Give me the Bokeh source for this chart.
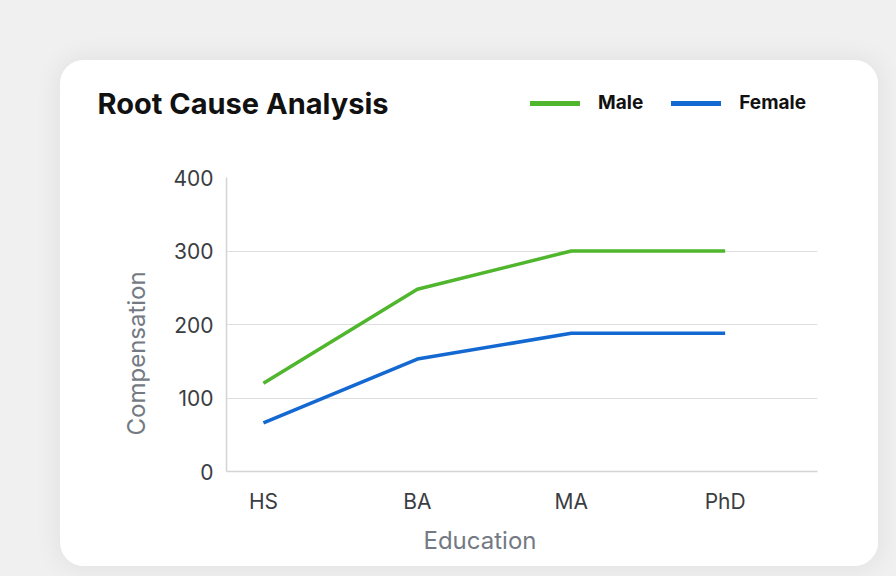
from bokeh.plotting import figure
from bokeh.models import (Range1d, FixedTicker, Legend, LegendItem, Label, Spacer, Title)
from bokeh.layouts import column, row
from bokeh.embed import file_html
from bokeh.resources import INLINE

# ---- data ----
categories = ["HS", "BA", "MA", "PhD"]
male = [120, 248, 300, 300]
female = [66, 153, 188, 188]
y_ticks = [0, 100, 200, 300, 400]
title_text = "Root Cause Analysis"
series_names = ["Male", "Female"]
x_label = "Education"
y_label = "Compensation"

GREEN = "#4FB62D"
BLUE = "#1368D2"
FONT = "Inter"

CARD_W = 818
HEAD_H = 100
MAIN_H = 406

xs = list(range(len(categories)))

# ---- header (title + legend) ----
h = figure(width=CARD_W, height=HEAD_H, output_backend="svg", toolbar_location=None,
           x_range=Range1d(1000, 1001), y_range=Range1d(1000, 1001),
           min_border=0)
h.frame_align = False
h.axis.visible = False
h.grid.visible = False
h.outline_line_color = None
h.border_fill_color = "white"
h.background_fill_color = "white"

# legend proxies (same series, kept out of the header's view)
lm = h.line(xs, male, line_color=GREEN, line_width=5, line_cap="round")
lf = h.line(xs, female, line_color=BLUE, line_width=5, line_cap="round")

title = Label(x=37, y=57, x_units="screen", y_units="screen", text=title_text,
              text_font=FONT, text_font_size="29px", text_font_style="bold",
              text_color="#111111", text_baseline="middle", text_align="left")
h.add_layout(title)

legend = Legend(items=[LegendItem(label=series_names[0], renderers=[lm]),
                       LegendItem(label=series_names[1], renderers=[lf])],
                location=(470, 46), orientation="horizontal",
                glyph_width=50, glyph_height=20, label_standoff=18, spacing=28,
                padding=0, margin=0, border_line_alpha=0, background_fill_alpha=0,
                label_text_font=FONT, label_text_font_size="19px",
                label_text_font_style="bold", label_text_color="#111111")
h.add_layout(legend, "center")

# ---- main chart ----
p = figure(width=CARD_W, height=MAIN_H, output_backend="svg", toolbar_location=None,
           x_range=Range1d(-0.24, 3.6), y_range=Range1d(0, 400),
           min_border_left=166, min_border_right=61, min_border_top=17,
           min_border_bottom=95)
p.frame_align = False
p.border_fill_color = "white"
p.background_fill_color = "white"
p.outline_line_color = None

r_m = p.line(xs, male, line_color=GREEN, line_width=3.5)
r_f = p.line(xs, female, line_color=BLUE, line_width=3.5)

p.xaxis.ticker = FixedTicker(ticks=xs)
p.xaxis.major_label_overrides = {i: c for i, c in enumerate(categories)}
p.yaxis.ticker = FixedTicker(ticks=y_ticks)
for ax in (p.xaxis[0], p.yaxis[0]):
    ax.axis_line_color = "#d4d4d4"
    ax.axis_line_width = 1.5
    ax.major_tick_line_color = None
    ax.minor_tick_line_color = None
    ax.major_label_text_font = FONT
    ax.major_label_text_font_size = "21px"
    ax.major_label_text_color = "#3a3d42"
p.xaxis.major_label_standoff = 11
p.yaxis.major_label_standoff = 7

# axis titles, placed in the axis panels so they can be shifted like the reference
xt = Title(text=x_label, align="left", offset=197, standoff=14,
           text_font=FONT, text_font_size="24px", text_font_style="normal",
           text_color="#737a83")
p.add_layout(xt, "below")
yt = Title(text=y_label, align="left", offset=36, standoff=40,
           text_font=FONT, text_font_size="24px", text_font_style="normal",
           text_color="#737a83")
p.add_layout(yt, "left")

p.xgrid.grid_line_color = None
p.ygrid.grid_line_color = "#dedede"
p.ygrid.grid_line_width = 1

card = column(h, p, width=CARD_W, height=HEAD_H + MAIN_H,
              styles={"border-radius": "24px", "overflow": "hidden",
                      "background-color": "white",
                      "box-shadow": "0 0 22px 6px rgba(0,0,0,0.05)"})

layout = column(Spacer(height=60), row(Spacer(width=60), card),
                width=896, height=576,
                styles={"background-color": "#f0f0f0"})

open("out.html", "w").write(file_html(layout, INLINE))
